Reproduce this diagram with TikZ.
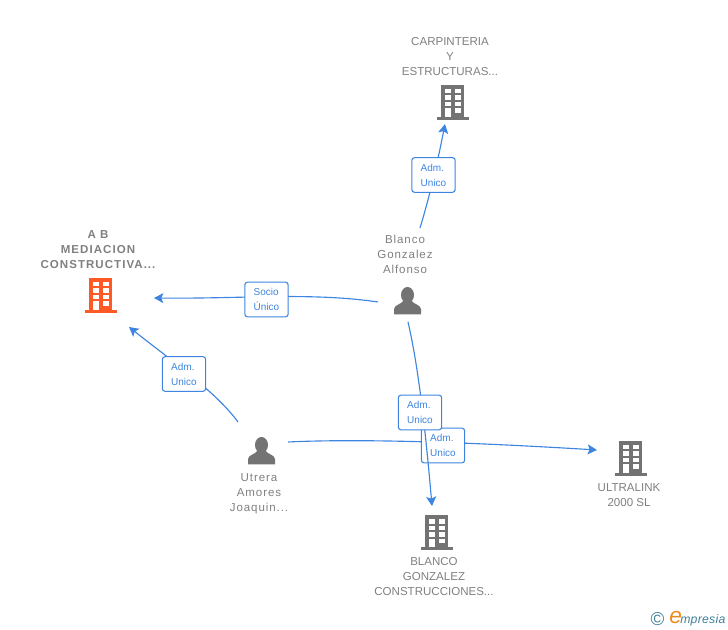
\documentclass[tikz,border=0pt]{standalone}
\usepackage{fontspec}
\setmainfont{Liberation Sans}
\usetikzlibrary{arrows.meta}
\definecolor{linkBlue}{HTML}{3D85E0}
\definecolor{iconGray}{HTML}{737373}
\definecolor{textGray}{HTML}{808080}
\definecolor{mainOrange}{HTML}{FF5A26}
\definecolor{logoTeal}{HTML}{3F7F9A}
\definecolor{logoOrange}{HTML}{F08A1D}
\begin{document}
\begin{tikzpicture}[x=0.75pt,y=-0.75pt]
\tikzstyle{company}=[text=textGray,align=center,inner sep=0pt,font=\fontsize{8.65}{11.25}\selectfont]
\tikzstyle{mainCompany}=[company,font=\fontsize{8.65}{11.25}\selectfont\bfseries\addfontfeature{LetterSpace=9}]
\tikzstyle{owner}=[company,font=\fontsize{8.65}{11.25}\selectfont\addfontfeature{LetterSpace=8}]
\tikzstyle{role}=[fill=white,draw=linkBlue,text=linkBlue,line width=0.8pt,rounded corners=2pt,minimum width=32.5pt,minimum height=26pt,inner sep=0pt,align=left,font=\fontsize{7.5}{11.25}\selectfont]
\tikzstyle{link}=[->,>={Stealth[length=7pt,width=7.5pt,inset=1.5pt]},line width=0.85pt,color=linkBlue]
\tikzset{
  pics/building/.style={code={
    \fill[#1] (-11.5,-17) rectangle (11.5,15.5);
    \fill[#1] (-16,15) rectangle (16,18);
    \foreach \wy in {-13,-6.5,0}{
      \fill[white] (-7.5,\wy) rectangle (-2,\wy+4.5);
      \fill[white] (2.5,\wy) rectangle (8,\wy+4.5);
    }
    \fill[white] (-7.5,6.5) rectangle (-2,15);
    \fill[white] (2.5,6.5) rectangle (8,11);
  }},
  pics/person/.style={code={
    \fill[#1] (0,-5.5) ellipse (6.5 and 8);
    \fill[#1] (-13.5,14) -- (-13.5,8.5) .. controls (-13,4) and (-6,4) .. (-4,0)
      -- (4,0) .. controls (6,4) and (13,4) .. (13.5,8.5) -- (13.5,14) -- cycle;
  }}
}
\useasboundingbox (0,0) rectangle (728,630);

\pic at (100.5,295) {building=mainOrange};
\pic at (452.5,102) {building=iconGray};
\pic at (436.5,532) {building=iconGray};
\pic at (630.5,458) {building=iconGray};
\pic at (407.5,300.5) {person=iconGray};
\pic at (261.5,450.5) {person=iconGray};

\node[company] (carpinteria) at (450,57) {CARPINTERIA\\Y\\ESTRUCTURAS...};
\node[mainCompany] (mediacion) at (98,250) {A B\\MEDIACION\\CONSTRUCTIVA...};
\node[owner] (blanco) at (405,254) {Blanco\\Gonzalez\\Alfonso};
\node[owner] (utrera) at (259,494) {Utrera\\Amores\\Joaquin...};
\node[company] (ultralink) at (629,495.5) {ULTRALINK\\2000 SL};
\node[company] (construcciones) at (434,577) {BLANCO\\GONZALEZ\\CONSTRUCCIONES...};

\coordinate (blancoUp) at (420,228);
\coordinate (blancoLeft) at (378,302);
\coordinate (blancoDown) at (408,322);
\coordinate (utreraUp) at (238,422);
\coordinate (utreraRight) at (288,442);
\coordinate (carpinteriaIn) at (445,124);
\coordinate (mediacionIn1) at (154,298);
\coordinate (mediacionIn2) at (129,327);
\coordinate (ultralinkIn) at (597,450);
\coordinate (construccionesIn) at (432,506);

\draw[link] (blancoUp) .. controls (430,195) and (438,160) .. (carpinteriaIn);
\draw[link] (blancoLeft) .. controls (310,292) and (240,299) .. (mediacionIn1);
\draw[link] (utreraUp) .. controls (216,392) and (172,361) .. (mediacionIn2);
\draw[link] (utreraRight) .. controls (350,439) and (450,441) .. (ultralinkIn);

\node[role] (admCarpinteria) at (433.5,175) {Adm.\\Unico};
\node[role] (socioMediacion) at (266.5,299.5) {Socio\\Único};
\node[role] (admMediacion) at (184,374) {Adm.\\Unico};
\node[role] (admUltralink) at (443,445.5) {Adm.\\Unico};

\draw[link] (blancoDown) .. controls (418,365) and (425,425) .. (construccionesIn);

\node[role] (admConstrucciones) at (420,412.5) {Adm.\\Unico};

\node[inner sep=0pt,text=logoTeal,font=\fontsize{14}{14}\selectfont] (logoMark) at (657.5,619) {©};
\node[inner sep=0pt,text=logoTeal,font=\itshape\fontsize{9.2}{10}\selectfont\addfontfeature{LetterSpace=2},anchor=west] (logoWord) at (680,620) {mpresia};
\node[inner sep=0pt,text=logoOrange,font=\itshape\fontsize{17}{17}\selectfont,anchor=west] (logoInitial) at (669,618) {e};

\end{tikzpicture}
\end{document}
